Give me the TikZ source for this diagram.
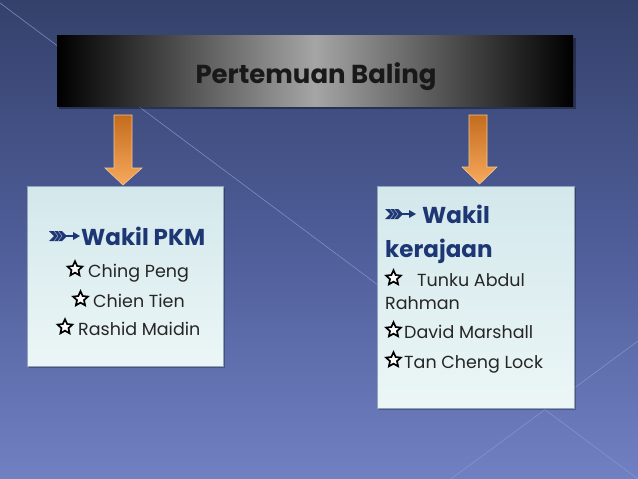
\documentclass[tikz,border=0pt]{standalone}
\usepackage{fontspec}
\setmainfont{Poppins}
\usetikzlibrary{shapes.geometric}
\definecolor{bgtop}{HTML}{34416B}
\definecolor{bgmid}{HTML}{4E5D98}
\definecolor{bgbot}{HTML}{7080C2}
\definecolor{barmid}{HTML}{A5A5A5}
\definecolor{boxtop}{HTML}{D3E8EC}
\definecolor{boxbot}{HTML}{ECF6F6}
\definecolor{boxline}{HTML}{8EA6B6}
\definecolor{headblue}{HTML}{1D3674}
\definecolor{orgtop}{HTML}{C46C1E}
\definecolor{orgbot}{HTML}{F7A95C}
\definecolor{orgline}{HTML}{F5C890}
\definecolor{diag}{HTML}{8C99D0}
\tikzset{
  panel/.style={draw=boxline, line width=0.8pt, top color=boxtop, bottom color=boxbot},
  head/.style={font=\fontsize{23}{26}\selectfont\bfseries, text=headblue, inner sep=0pt},
  item/.style={font=\fontsize{17.5}{20}\selectfont, text=black!85, inner sep=0pt},
  blockarrow/.style={draw=orgline, line width=0.6pt, top color=orgtop, bottom color=orgbot},
  bullet/.style={star, star points=5, star point ratio=2.1, draw=black, line width=1.7pt,
    line join=miter, fill=white, minimum size=15.5pt, inner sep=0pt},
  feather/.pic={
    \fill[headblue] (0,-5) -- (13,-5) -- (18,0) -- (13,5) -- (0,5) -- (5,0) -- cycle;
    \draw[white!60!headblue, line width=0.5pt] (5,-5) -- (9,0) -- (5,5) (9,-5) -- (13,0) -- (9,5);
    \draw[headblue, line width=1.6pt] (17,0) -- (26,0);
    \fill[headblue] (24,-4) -- (31,0) -- (24,4) -- cycle;
  },
}
\begin{document}
\begin{tikzpicture}[x=1pt,y=-1pt]
\useasboundingbox (0,0) rectangle (638,479);
% background
\shade[top color=bgtop, bottom color=bgbot, middle color=bgmid] (0,0) rectangle (638,479);
\draw[diag, line width=0.6pt, opacity=0.8] (0,3) -- (638,479);
\draw[diag, line width=0.6pt, opacity=0.8] (451,479) -- (638,341);
% title bar
\fill[black, opacity=0.35] (59,38) rectangle (576,109);
\shade[left color=black, right color=black, middle color=barmid] (57,35) rectangle (573,106);
\node[font=\fontsize{26}{30}\selectfont\bfseries, text=black!90, inner sep=0pt, anchor=base] (title) at (316,83) {Pertemuan Baling};
% block arrows
\path[blockarrow] (114,115) -- (132,115) -- (132,168) -- (142,168) -- (123,185) -- (105,168) -- (114,168) -- cycle;
\path[blockarrow] (469,115) -- (487,115) -- (487,167) -- (497,167) -- (479.5,184) -- (462,167) -- (469,167) -- cycle;
% boxes
\fill[black, opacity=0.25] (29,188) rectangle (225,368);
\path[panel] (27,186) rectangle (223,366);
\fill[black, opacity=0.25] (379,188) rectangle (576,410);
\path[panel] (377,186) rectangle (574,408);
% left box text
\pic at (49,236) {feather};
\node[head, anchor=base west] (l1) at (81,245) {Wakil PKM};
\node[bullet] (s2) at (75,269) {};
\node[item, anchor=base west] (l2) at (88,277) {Ching Peng};
\node[bullet] (s3) at (80.5,299) {};
\node[item, anchor=base west] (l3) at (93,307) {Chien Tien};
\node[bullet] (s4) at (65,327) {};
\node[item, anchor=base west] (l4) at (78,335) {Rashid Maidin};
% right box text
\pic at (385,214) {feather};
\node[head, anchor=base west] (r1) at (422,223) {Wakil};
\node[head, anchor=base west] (r2) at (385,257) {kerajaan};
\node[bullet] (s5) at (393.5,278) {};
\node[item, anchor=base west] (r3) at (417,286) {Tunku Abdul};
\node[item, anchor=base west] (r4) at (385,309) {Rahman};
\node[bullet] (s6) at (393.5,330) {};
\node[item, anchor=base west] (r5) at (404,338) {David Marshall};
\node[bullet] (s7) at (393.5,360) {};
\node[item, anchor=base west] (r6) at (404,368) {Tan Cheng Lock};
\end{tikzpicture}
\end{document}
